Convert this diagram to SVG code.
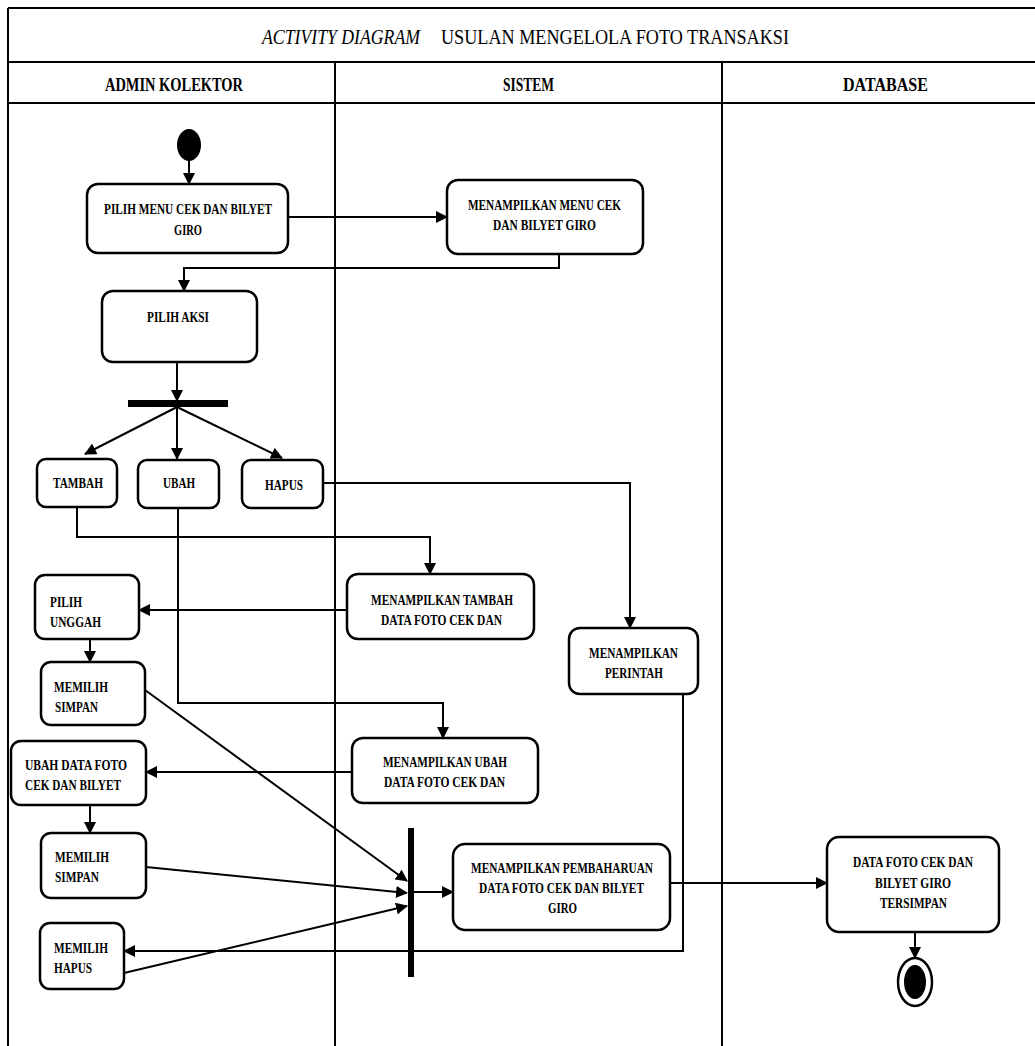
<svg xmlns="http://www.w3.org/2000/svg" width="1035" height="1046" viewBox="0 0 1035 1046">
<style>
.frame{fill:none;stroke:#000;stroke-width:2}
.node{fill:#fff;stroke:#000;stroke-width:2.5}
text{font-family:'Liberation Serif','DejaVu Serif',serif}
.t{font-weight:bold;font-size:15px;fill:#000}
.h{font-weight:bold;font-size:19px;fill:#000}
.ti{font-size:22px;fill:#000}
.ln{fill:none;stroke:#000;stroke-width:2;stroke-linejoin:miter}
</style>
<defs>
<marker id="ah" markerUnits="userSpaceOnUse" markerWidth="12" markerHeight="12" refX="11" refY="6" orient="auto" viewBox="0 0 12 12">
<path d="M0,0 L12,6 L0,12 z" fill="#000"/>
</marker>
</defs>
<rect width="1035" height="1046" fill="#fff"/>
<g id="frame">
<line class="frame" x1="8" y1="8" x2="1035" y2="8"/>
<line class="frame" x1="8" y1="62" x2="1035" y2="62"/>
<line class="frame" x1="8" y1="103" x2="1035" y2="103"/>
<line class="frame" x1="8" y1="8" x2="8" y2="1046"/>
<line class="frame" x1="335" y1="62" x2="335" y2="1046"/>
<line class="frame" x1="722" y1="62" x2="722" y2="1046"/>
<text class="ti" x="262" y="44" font-style="italic" textLength="158" lengthAdjust="spacingAndGlyphs">ACTIVITY DIAGRAM</text>
<text class="ti" x="441" y="44" textLength="348" lengthAdjust="spacingAndGlyphs">USULAN MENGELOLA FOTO TRANSAKSI</text>
<text class="h" x="105" y="91" textLength="138" lengthAdjust="spacingAndGlyphs">ADMIN KOLEKTOR</text>
<text class="h" x="503" y="91" textLength="51" lengthAdjust="spacingAndGlyphs">SISTEM</text>
<text class="h" x="843" y="91" textLength="85" lengthAdjust="spacingAndGlyphs">DATABASE</text>
</g>
<g id="connectors">
<line class="ln" x1="189" y1="158" x2="189" y2="184" marker-end="url(#ah)"/>
<line class="ln" x1="288" y1="217" x2="447" y2="217" marker-end="url(#ah)"/>
<polyline class="ln" points="559,254 559,268 184,268 184,291" marker-end="url(#ah)"/>
<line class="ln" x1="177" y1="362" x2="177" y2="401" marker-end="url(#ah)"/>
<line class="ln" x1="177" y1="407" x2="85" y2="454" marker-end="url(#ah)"/>
<line class="ln" x1="177" y1="407" x2="177" y2="459" marker-end="url(#ah)"/>
<line class="ln" x1="177" y1="407" x2="282" y2="458" marker-end="url(#ah)"/>
<polyline class="ln" points="323,483 630,483 630,628" marker-end="url(#ah)"/>
<polyline class="ln" points="77,507 77,537 430,537 430,574" marker-end="url(#ah)"/>
<line class="ln" x1="347" y1="610" x2="139" y2="610" marker-end="url(#ah)"/>
<line class="ln" x1="90" y1="639" x2="90" y2="662" marker-end="url(#ah)"/>
<polyline class="ln" points="178,508 178,703 443,703 443,738" marker-end="url(#ah)"/>
<line class="ln" x1="352" y1="772" x2="146" y2="772" marker-end="url(#ah)"/>
<line class="ln" x1="90" y1="805" x2="90" y2="833" marker-end="url(#ah)"/>
<line class="ln" x1="145" y1="690" x2="407" y2="881" marker-end="url(#ah)"/>
<line class="ln" x1="146" y1="867" x2="407" y2="893" marker-end="url(#ah)"/>
<line class="ln" x1="124" y1="973" x2="407" y2="906" marker-end="url(#ah)"/>
<line class="ln" x1="414" y1="892" x2="453" y2="892" marker-end="url(#ah)"/>
<line class="ln" x1="670" y1="883" x2="827" y2="883" marker-end="url(#ah)"/>
<polyline class="ln" points="683,694 683,951 124,951" marker-end="url(#ah)"/>
<line class="ln" x1="915" y1="932" x2="915" y2="958" marker-end="url(#ah)"/>
</g>
<g id="start"><ellipse cx="189" cy="145" rx="12" ry="16" fill="#000"/></g>
<g id="n-pilih-menu">
<rect class="node" x="87" y="184" width="201" height="69" rx="11"/>
<text class="t" x="104" y="214" textLength="168" lengthAdjust="spacingAndGlyphs">PILIH MENU CEK DAN BILYET</text>
<text class="t" x="174" y="235" textLength="28" lengthAdjust="spacingAndGlyphs">GIRO</text>
</g>
<g id="n-menampilkan-menu">
<rect class="node" x="447" y="180" width="196" height="74" rx="11"/>
<text class="t" x="468" y="210" textLength="153" lengthAdjust="spacingAndGlyphs">MENAMPILKAN MENU CEK</text>
<text class="t" x="493" y="230" textLength="103" lengthAdjust="spacingAndGlyphs">DAN BILYET GIRO</text>
</g>
<g id="n-pilih-aksi">
<rect class="node" x="102" y="291" width="155" height="71" rx="11"/>
<text class="t" x="147" y="322" textLength="62" lengthAdjust="spacingAndGlyphs">PILIH AKSI</text>
</g>
<g id="fork"><rect x="128" y="400" width="100" height="7" fill="#000"/></g>
<g id="n-tambah">
<rect class="node" x="37" y="459" width="80" height="48" rx="9"/>
<text class="t" x="53" y="488" textLength="50" lengthAdjust="spacingAndGlyphs">TAMBAH</text>
</g>
<g id="n-ubah">
<rect class="node" x="138" y="460" width="81" height="48" rx="9"/>
<text class="t" x="163" y="488" textLength="32" lengthAdjust="spacingAndGlyphs">UBAH</text>
</g>
<g id="n-hapus">
<rect class="node" x="242" y="460" width="81" height="48" rx="9"/>
<text class="t" x="265" y="490" textLength="38" lengthAdjust="spacingAndGlyphs">HAPUS</text>
</g>
<g id="n-menampilkan-tambah">
<rect class="node" x="347" y="574" width="187" height="65" rx="11"/>
<text class="t" x="371" y="605" textLength="142" lengthAdjust="spacingAndGlyphs">MENAMPILKAN TAMBAH</text>
<text class="t" x="381" y="625" textLength="121" lengthAdjust="spacingAndGlyphs">DATA FOTO CEK DAN</text>
</g>
<g id="n-perintah">
<rect class="node" x="569" y="628" width="129" height="66" rx="11"/>
<text class="t" x="589" y="658" textLength="89" lengthAdjust="spacingAndGlyphs">MENAMPILKAN</text>
<text class="t" x="605" y="678" textLength="58" lengthAdjust="spacingAndGlyphs">PERINTAH</text>
</g>
<g id="n-pilih-unggah">
<rect class="node" x="35" y="575" width="104" height="64" rx="10"/>
<text class="t" x="50" y="607" textLength="32" lengthAdjust="spacingAndGlyphs">PILIH</text>
<text class="t" x="50" y="627" textLength="51" lengthAdjust="spacingAndGlyphs">UNGGAH</text>
</g>
<g id="n-memilih-simpan-1">
<rect class="node" x="41" y="662" width="104" height="63" rx="10"/>
<text class="t" x="54" y="692" textLength="54" lengthAdjust="spacingAndGlyphs">MEMILIH</text>
<text class="t" x="55" y="712" textLength="43" lengthAdjust="spacingAndGlyphs">SIMPAN</text>
</g>
<g id="n-menampilkan-ubah">
<rect class="node" x="352" y="738" width="186" height="65" rx="11"/>
<text class="t" x="383" y="767" textLength="124" lengthAdjust="spacingAndGlyphs">MENAMPILKAN UBAH</text>
<text class="t" x="384" y="787" textLength="121" lengthAdjust="spacingAndGlyphs">DATA FOTO CEK DAN</text>
</g>
<g id="n-ubah-data">
<rect class="node" x="11" y="741" width="135" height="64" rx="10"/>
<text class="t" x="25" y="770" textLength="102" lengthAdjust="spacingAndGlyphs">UBAH DATA FOTO</text>
<text class="t" x="25" y="790" textLength="96" lengthAdjust="spacingAndGlyphs">CEK DAN BILYET</text>
</g>
<g id="n-memilih-simpan-2">
<rect class="node" x="41" y="833" width="105" height="65" rx="10"/>
<text class="t" x="55" y="862" textLength="54" lengthAdjust="spacingAndGlyphs">MEMILIH</text>
<text class="t" x="55" y="882" textLength="44" lengthAdjust="spacingAndGlyphs">SIMPAN</text>
</g>
<g id="n-memilih-hapus">
<rect class="node" x="40" y="923" width="84" height="66" rx="10"/>
<text class="t" x="54" y="953" textLength="54" lengthAdjust="spacingAndGlyphs">MEMILIH</text>
<text class="t" x="54" y="973" textLength="38" lengthAdjust="spacingAndGlyphs">HAPUS</text>
</g>
<g id="join"><rect x="408" y="828" width="6" height="149" fill="#000"/></g>
<g id="n-pembaharuan">
<rect class="node" x="453" y="844" width="217" height="86" rx="12"/>
<text class="t" x="471" y="873" textLength="182" lengthAdjust="spacingAndGlyphs">MENAMPILKAN PEMBAHARUAN</text>
<text class="t" x="479" y="893" textLength="165" lengthAdjust="spacingAndGlyphs">DATA FOTO CEK DAN BILYET</text>
<text class="t" x="548" y="913" textLength="29" lengthAdjust="spacingAndGlyphs">GIRO</text>
</g>
<g id="n-tersimpan">
<rect class="node" x="827" y="837" width="172" height="95" rx="12"/>
<text class="t" x="853" y="867" textLength="120" lengthAdjust="spacingAndGlyphs">DATA FOTO CEK DAN</text>
<text class="t" x="875" y="888" textLength="76" lengthAdjust="spacingAndGlyphs">BILYET GIRO</text>
<text class="t" x="880" y="908" textLength="67" lengthAdjust="spacingAndGlyphs">TERSIMPAN</text>
</g>
<g id="end">
<ellipse cx="915" cy="982" rx="17" ry="24" fill="#fff" stroke="#000" stroke-width="2.5"/>
<ellipse cx="915" cy="982" rx="11" ry="17" fill="#000"/>
</g>
</svg>
